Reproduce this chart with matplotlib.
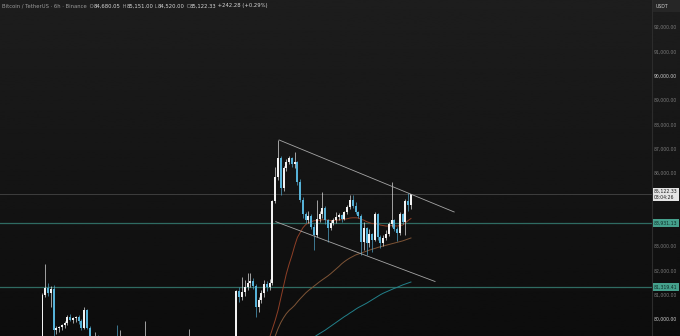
import matplotlib
matplotlib.use('Agg')
import matplotlib.pyplot as plt
import numpy as np
from matplotlib.patches import Rectangle
from matplotlib.transforms import blended_transform_factory

# BTC/USDT 6h candles, oldest first (off-screen ones estimated)
opens = [78600, 80990, 81270, 81070, 81230, 79550, 79630, 79680, 79760, 79850,
         80080, 79960, 80050, 80100, 79900, 79620, 80370, 79650, 79250, 79000,
         79300, 79100, 78900, 78600, 78750, 78400, 78700, 79000, 78800, 79100,
         78700, 78300, 78500, 78100, 78400, 78700, 78500, 78900, 79200, 78800,
         78400, 78000, 78300, 77900, 78200, 78500, 78200, 78600, 78300, 77900,
         78200, 78500, 78800, 78600, 78900, 78500, 78100, 78300, 77800, 77400,
         77700, 78000, 77700, 78100, 78400, 78000, 78300, 78600, 78300, 78700,
         78900, 81150, 80900, 81100, 81300, 81480, 81550, 81350, 80500, 80800,
         81050, 81450, 81300, 81480, 84850, 85840, 86620, 85380, 86200, 86450,
         86600, 86350, 86450, 85650, 84900, 84300, 84080, 84250, 83800, 83450,
         84100, 84300, 84560, 84050, 83750, 83950, 84050, 84190, 84270, 84100,
         84380, 84600, 84880, 84650, 84380, 84250, 83150, 83750, 83120, 83500,
         83250, 84300, 83370, 83130, 83330, 83500, 83900, 84050, 83700, 83550,
         84300, 83990, 84850, 84680.05]
highs = [81050, 82260, 81480, 81350, 81400, 79700, 79720, 79800, 79900, 80150,
         80200, 80100, 80120, 80150, 80000, 80490, 80420, 79700, 79300, 79480,
         79350, 79200, 79000, 78900, 78850, 78900, 79150, 79750, 79550, 79200,
         78800, 78700, 78600, 78600, 78900, 78850, 79100, 79920, 79300, 78900,
         78500, 78500, 78400, 78400, 78700, 78600, 78800, 78700, 78400, 78400,
         78700, 79000, 78900, 79590, 79000, 78600, 78500, 78400, 77900, 77900,
         78200, 78100, 78300, 78600, 78500, 78500, 78800, 78700, 78900, 79100,
         81200, 81300, 81730, 81600, 81890, 81880, 81700, 81450, 80900, 81200,
         81600, 81550, 81650, 84900, 86250, 87360, 86700, 86300, 86560, 86700,
         86650, 86860, 86500, 85750, 85000, 84380, 84450, 84300, 83900, 84890,
         84420, 85220, 84650, 84100, 84050, 84150, 84400, 84350, 84330, 84450,
         84700, 85100, 85100, 84800, 84450, 84300, 83990, 83800, 83700, 83550,
         84400, 84350, 83450, 83450, 83650, 84000, 85640, 84100, 83800, 84400,
         84350, 84950, 85180, 85151.00]
lows = [78500, 80900, 80950, 80500, 79300, 79400, 79450, 79550, 79650, 79750,
        79900, 79850, 79880, 79800, 79550, 79580, 79600, 79150, 78900, 78850,
        79000, 78800, 78450, 78500, 78300, 78300, 78600, 78700, 78700, 78500,
        78100, 78200, 77900, 78000, 78300, 78400, 78400, 78800, 78600, 78200,
        77800, 77900, 77700, 77800, 78100, 78000, 78100, 78100, 77700, 77800,
        78100, 78400, 78400, 78500, 78300, 77900, 78000, 77600, 77200, 77300,
        77600, 77500, 77600, 78000, 77800, 77900, 78200, 78100, 78200, 78600,
        78800, 80700, 80800, 80950, 81200, 81300, 81250, 80080, 80300, 80650,
        80900, 81150, 81200, 81400, 84780, 85700, 85100, 85250, 86100, 86350,
        86250, 86200, 85500, 84800, 84150, 83950, 83950, 83700, 82840, 83350,
        84000, 84150, 83900, 83160, 83650, 83850, 83950, 84050, 84000, 84050,
        84300, 84500, 84550, 84300, 84150, 82630, 82840, 82630, 82950, 82750,
        83200, 83250, 82900, 83000, 83250, 83400, 83800, 83600, 83200, 83450,
        83900, 83450, 84450, 84520.00]
closes = [80990, 81270, 81070, 81230, 79550, 79630, 79680, 79760, 79850, 80080,
          79960, 80050, 80100, 79900, 79620, 80370, 79650, 79250, 79000, 79300,
          79100, 78900, 78600, 78750, 78400, 78700, 79000, 78800, 79100, 78700,
          78300, 78500, 78100, 78400, 78700, 78500, 78900, 79200, 78800, 78400,
          78000, 78300, 77900, 78200, 78500, 78200, 78600, 78300, 77900, 78200,
          78500, 78800, 78600, 78900, 78500, 78100, 78300, 77800, 77400, 77700,
          78000, 77700, 78100, 78400, 78000, 78300, 78600, 78300, 78700, 78900,
          81150, 80900, 81100, 81300, 81480, 81550, 81350, 80500, 80800, 81050,
          81450, 81300, 81480, 84850, 85840, 86620, 85380, 86200, 86450, 86600,
          86350, 86450, 85650, 84900, 84300, 84080, 84250, 83800, 83450, 84100,
          84300, 84560, 84050, 83750, 83950, 84050, 84190, 84270, 84100, 84380,
          84600, 84880, 84650, 84380, 84250, 83150, 83750, 83120, 83500, 83250,
          84300, 83370, 83130, 83330, 83500, 83900, 84050, 83700, 83550, 84300,
          83990, 84850, 84680, 85122.33]

# moving averages (only the part that shows on screen), first candle index of each
ma_fast_start = 81
ma_fast = [78950, 79250, 79600, 79950, 80350, 80850, 81350, 81850, 82250, 82600,
           83000, 83350, 83550, 83750, 83880, 83950, 84000, 84040, 84050, 84060,
           84080, 84080, 84060, 84050, 84050, 84060, 84070, 84080, 84100, 84120,
           84150, 84160, 84160, 84150, 84100, 84060, 84000, 83960, 83920, 83920,
           83900, 83860, 83840, 83820, 83820, 83840, 83830, 83820, 83840, 83860,
           83950, 84050, 84130]
ma_mid_start = 83
ma_mid = [79000, 79300, 79600, 79850, 80050, 80220, 80350, 80450, 80560, 80700,
          80830, 80950, 81070, 81170, 81260, 81350, 81440, 81530, 81610, 81690,
          81770, 81860, 81960, 82060, 82160, 82270, 82360, 82440, 82510, 82570,
          82630, 82670, 82710, 82750, 82790, 82830, 82870, 82900, 82940, 82970,
          83000, 83030, 83060, 83090, 83120, 83150, 83180, 83210, 83250, 83290,
          83330]
ma_slow_start = 97
ma_slow = [79170, 79250, 79330, 79400, 79470, 79540, 79620, 79700, 79780, 79860,
           79940, 80020, 80100, 80170, 80250, 80320, 80400, 80470, 80530, 80590,
           80650, 80720, 80790, 80860, 80930, 81000, 81060, 81110, 81160, 81210,
           81260, 81300, 81350, 81400, 81440, 81480, 81520]

# drawn trend lines (candle index, price)
upper_x = [85.4, 148.6]
upper_y = [87357, 84398]
lower_x = [84.2, 141.7]
lower_y = [83999, 81541]

# horizontal levels
last_price = 85122.33
level_prices = [83931.13, 81319.41]

price_ticks = [80000, 81000, 82000, 83000, 86000, 87000, 88000, 89000, 90000, 91000, 92000]

header = [('Bitcoin / TetherUS \u00b7 6h \u00b7 Binance ', '#9a9a9a'),
          (' O', '#9a9a9a'), ('84,680.05', '#d6d6d6'),
          (' H', '#9a9a9a'), ('85,151.00', '#d6d6d6'),
          (' L', '#9a9a9a'), ('84,520.00', '#d6d6d6'),
          (' C', '#9a9a9a'), ('85,122.33', '#d6d6d6'),
          (' +242.28 (+0.29%)', '#d6d6d6')]

UP = '#f2f2f2'
DOWN = '#56b2d8'
FS = 3.8     # header
FS_AX = 3.35  # price scale

W, H = 680, 336
fig = plt.figure(figsize=(W / 100, H / 100), dpi=100)

# background gradient
bg = fig.add_axes([0, 0, 1, 1])
grad = np.linspace(0.115, 0.05, 256).reshape(-1, 1)
bg.imshow(grad, cmap='gray', vmin=0, vmax=1, aspect='auto', extent=[0, 1, 0, 1])
bg.axis('off')

ax = fig.add_axes([0, 0, 652 / W, 1])
ax.set_facecolor('none')
ax.set_xlim(-15.34, 220.0)
ax.set_ylim(79301, 93110)

# levels
ax.axhline(last_price, color='#3e3e3e', lw=0.7, zorder=0.5)
for p in level_prices:
    ax.axhline(p, color='#2f6b62', lw=0.9, zorder=0.5)

# moving averages
ax.plot(np.arange(ma_fast_start, ma_fast_start + len(ma_fast)), ma_fast,
        color='#8e3f26', lw=0.7, zorder=1)
ax.plot(np.arange(ma_mid_start, ma_mid_start + len(ma_mid)), ma_mid,
        color='#7e5436', lw=0.7, zorder=1)
ax.plot(np.arange(ma_slow_start, ma_slow_start + len(ma_slow)), ma_slow,
        color='#22808a', lw=0.7, zorder=1)

# candles
o = np.array(opens)
h = np.array(highs)
l = np.array(lows)
c = np.array(closes)
idx = np.arange(len(c))
cols = np.where(c >= o, UP, DOWN)
ax.vlines(idx, l, h, colors=cols, lw=0.45, zorder=2)
ax.bar(idx, np.maximum(np.abs(c - o), 25), bottom=np.minimum(o, c), width=0.72,
       color=cols, linewidth=0, zorder=2)

# trend lines
ax.plot(upper_x, upper_y, color='#a6a6a6', lw=0.6, zorder=3)
ax.plot(lower_x, lower_y, color='#a6a6a6', lw=0.6, zorder=3)

# price scale
ax.set_xticks([])
ax.yaxis.tick_right()
ax.set_yticks(price_ticks)
ax.set_yticklabels([f'{t:,.2f}' for t in price_ticks])
ax.tick_params(axis='y', length=0, pad=1.2, labelsize=FS_AX, labelcolor='#7a7a7a')
for t, lab in zip(price_ticks, ax.get_yticklabels()):
    if t % 10000 == 0:
        lab.set_color('#cfcfcf')
for s in ['top', 'left', 'bottom']:
    ax.spines[s].set_visible(False)
ax.spines['right'].set_color('#2c2c2c')
ax.spines['right'].set_linewidth(0.8)

tr = blended_transform_factory(ax.transAxes, ax.transData)
ax.text(1.003, last_price, f'{last_price:,.2f}\n03:04:26', transform=tr, ha='left', va='center',
        fontsize=FS_AX, color='#1c1c1c', linespacing=1.1, zorder=5,
        bbox=dict(boxstyle='square,pad=0.3', fc='#e4e4e4', ec='none'))
for p in level_prices:
    ax.text(1.003, p, f'{p:,.2f}', transform=tr, ha='left', va='center',
            fontsize=FS_AX, color='#0f2e28', zorder=5,
            bbox=dict(boxstyle='square,pad=0.3', fc='#45a08c', ec='none'))

# currency box
fig.patches.append(Rectangle((653 / W, 1 - 12 / H), 27 / W, 12 / H,
                             transform=fig.transFigure, fc='#262626', ec='none'))
fig.text(656 / W, 1 - 6 / H, 'USDT', fontsize=FS_AX, color='#cfcfcf', va='center')

# header line
t = fig.text(2 / W, 1 - 6 / H, header[0][0], fontsize=FS, color=header[0][1], va='center')
for s, col in header[1:]:
    t = ax.annotate(s, xy=(1, 0.5), xycoords=t, va='center', ha='left',
                    fontsize=FS, color=col, annotation_clip=False)

fig.savefig('out.png', dpi=100)
